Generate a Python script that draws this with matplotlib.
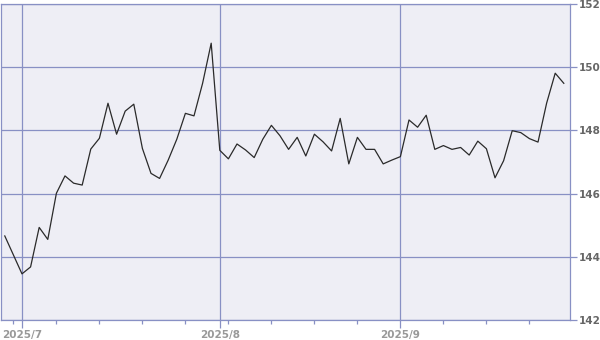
import matplotlib
matplotlib.use("Agg")
import matplotlib.pyplot as plt
import pandas as pd
import numpy as np

# Business days from 2025-06-27 to 2025-09-26
start_date = "2025-06-27"
end_date = "2025-09-26"
values = [
    144.66, 144.06,
    143.46, 143.68, 144.93, 144.55, 146.01, 146.56, 146.33, 146.27, 147.41,
    147.75, 148.86, 147.88, 148.61, 148.83, 147.43, 146.64, 146.48, 147.06,
    147.72, 148.54, 148.46, 149.49, 150.76,
    147.37, 147.10, 147.57, 147.38, 147.14, 147.72, 148.16, 147.83, 147.40,
    147.78, 147.19, 147.88, 147.64, 147.35, 148.38, 146.94, 147.78, 147.40,
    147.40, 146.94, 147.06,
    147.17, 148.33, 148.10, 148.48, 147.40, 147.52, 147.40, 147.46, 147.22,
    147.66, 147.42, 146.50, 147.04, 147.99, 147.93, 147.74, 147.63, 148.86,
    149.81, 149.49,
]
month_labels = ["2025/7", "2025/8", "2025/9"]
y_ticks = [142, 144, 146, 148, 150, 152]

dates = pd.bdate_range(start_date, end_date)
idx = np.arange(len(dates))

GRID = "#8890c4"
BG = "#eeeef5"

fig = plt.figure(figsize=(6, 3.4), dpi=100)
ax = fig.add_axes([1 / 600, 20 / 340, 569 / 600, 316 / 340])
ax.set_facecolor(BG)

ax.plot(idx, values, color="#2a2a2a", lw=0.9, zorder=3)

# month starts and Monday ticks
month_pos = []
minor_pos = []
prev_month = None
for i, d in enumerate(dates):
    if d.month != prev_month and prev_month is not None:
        month_pos.append(i)
    elif d.weekday() == 0:
        minor_pos.append(i)
    prev_month = d.month

ax.set_xlim(-0.44, 65.72)
ax.set_ylim(142, 152)
ax.set_xticks(month_pos)
ax.set_xticklabels(month_labels)
ax.set_xticks(minor_pos, minor=True)
ax.set_yticks(y_ticks)
ax.set_yticklabels([str(v) for v in y_ticks])

ax.yaxis.tick_right()
ax.grid(True, which="major", color=GRID, lw=0.9, zorder=1)
for s in ax.spines.values():
    s.set_color(GRID)
    s.set_linewidth(0.9)

ax.tick_params(axis="y", which="major", length=5, width=0.9, color=GRID,
               labelsize=7.5, labelcolor="#666666", pad=1.2)
ax.tick_params(axis="x", which="major", length=6, width=0.9, color=GRID,
               labelsize=7.5, labelcolor="#999999", pad=1.5)
ax.tick_params(axis="x", which="minor", length=3, width=0.9, color=GRID)
for lab in ax.get_xticklabels() + ax.get_yticklabels():
    lab.set_fontweight("bold")

fig.savefig("out.png", dpi=100, facecolor="white")
